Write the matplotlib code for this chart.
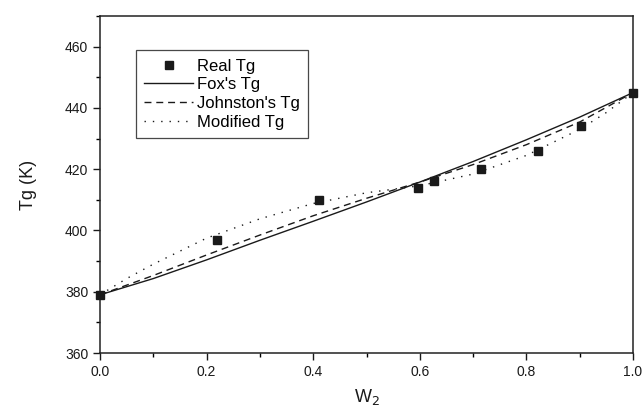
import matplotlib
matplotlib.use('Agg')
import matplotlib.pyplot as plt
from matplotlib.ticker import MultipleLocator

plt.rcParams['font.family'] = ['Liberation Sans', 'DejaVu Sans']

# --- dados ---
w2_real = [0.0, 0.22, 0.41, 0.597, 0.627, 0.715, 0.822, 0.903, 1.0]
tg_real = [379, 397, 410, 414, 416, 420, 426, 434, 445]

w2_curva = [0.0, 0.1, 0.2, 0.3, 0.4, 0.5, 0.6, 0.7, 0.8, 0.9, 1.0]
tg_fox = [379, 384.3, 390.4, 396.8, 403.0, 409.3, 415.8, 422.5, 429.6, 437.0, 445]
tg_johnston = [379, 385.3, 392.0, 398.5, 404.8, 410.5, 415.8, 421.5, 428.0, 435.4, 445]

w2_mod = [0.0, 0.05, 0.1, 0.2, 0.3, 0.4, 0.5, 0.6, 0.7, 0.8, 0.9, 0.95, 1.0]
tg_mod = [379, 384.3, 389.0, 397.5, 403.8, 408.8, 412.3, 414.6, 418.4, 424.5, 433.0, 438.5, 445]

cor = '#1a1a1a'

fig = plt.figure(figsize=(6.42, 4.11), dpi=100)
ax = fig.add_axes([0.1558, 0.1411, 0.8302, 0.8200])

ax.plot(w2_real, tg_real, 's', color=cor, markersize=5.5, label='Real Tg', zorder=5, clip_on=False)
ax.plot(w2_curva, tg_fox, '-', color=cor, lw=1.0, label="Fox's Tg")
ax.plot(w2_curva, tg_johnston, color=cor, lw=1.0, dashes=(5, 3.5), label="Johnston's Tg")
ax.plot(w2_mod, tg_mod, color=cor, lw=1.0, dashes=(1, 5), label='Modified Tg')

ax.set_xlim(0, 1.0)
ax.set_ylim(360, 470)
ax.xaxis.set_major_locator(MultipleLocator(0.2))
ax.xaxis.set_minor_locator(MultipleLocator(0.1))
ax.yaxis.set_minor_locator(MultipleLocator(10))
ax.set_yticks([360, 380, 400, 420, 440, 460])
ax.tick_params(which='major', direction='out', length=5, width=1, labelsize=10, colors=cor)
ax.tick_params(which='minor', direction='out', length=3, width=1)
ax.tick_params(top=False, right=False, which='both')
for s in ax.spines.values():
    s.set_linewidth(1.1)
    s.set_color('#222222')

ax.set_ylabel('Tg (K)', fontsize=13, color=cor, labelpad=20)
ax.set_xlabel('W$_2$', fontsize=13, color=cor, labelpad=6)

leg = ax.legend(loc='upper left', bbox_to_anchor=(0.052, 0.923), fontsize=12,
                frameon=True, fancybox=False, edgecolor=cor, handlelength=2.9,
                handletextpad=0.25, labelspacing=0.22, borderpad=0.5)
leg.get_frame().set_linewidth(0.9)

fig.savefig('out.png', dpi=100)
